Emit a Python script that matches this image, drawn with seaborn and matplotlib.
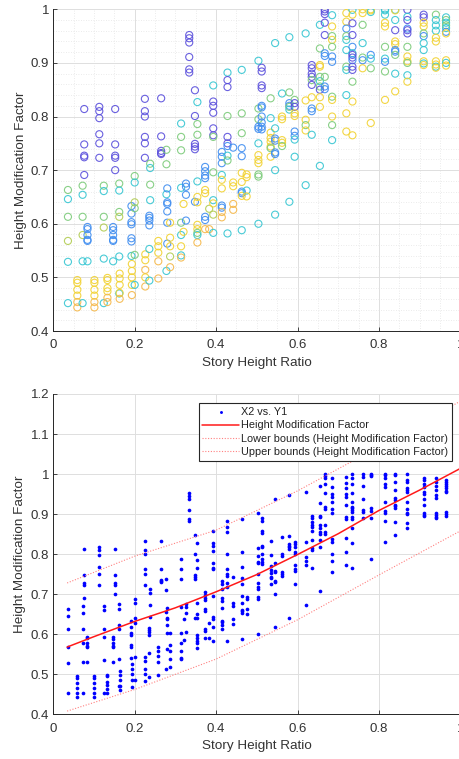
import numpy as np
import pandas as pd
import matplotlib
matplotlib.use("Agg")
import matplotlib.pyplot as plt
from matplotlib.ticker import FuncFormatter, MultipleLocator, AutoMinorLocator
import seaborn as sns

# ---------------- data ----------------
story_ratio = []
height_factor = []
color_group = []

def add(x, ys, cs):
    for y, c in zip(ys, cs):
        story_ratio.append(x)
        height_factor.append(y)
        color_group.append(c)

add(0.036, [0.663, 0.646, 0.613, 0.568, 0.529, 0.452], "GCGLCC")
add(0.059, [0.495, 0.490, 0.477, 0.466, 0.454, 0.444], "YYYYOO")
add(0.072, [0.671, 0.654, 0.613, 0.579, 0.530, 0.452], "GCGLCC")
add(0.076, [0.814, 0.748, 0.727, 0.724, 0.691], "PPPPP")
add(0.084, [0.594, 0.590, 0.579, 0.570, 0.568, 0.530], "BBBBBC")
add(0.101, [0.495, 0.490, 0.477, 0.466, 0.454, 0.444], "YYYYOO")
add(0.113, [0.818, 0.810, 0.797, 0.767, 0.750, 0.723], "PPPPPP")
add(0.124, [0.671, 0.661, 0.613, 0.593, 0.535, 0.452], "GCGLCC")
add(0.133, [0.499, 0.495, 0.480, 0.474, 0.462, 0.454], "YYYYOO")
add(0.147, [0.594, 0.588, 0.579, 0.570, 0.568, 0.530], "BBBBBC")
add(0.152, [0.814, 0.748, 0.727, 0.723, 0.700], "PPPPP")
add(0.162, [0.675, 0.662, 0.622, 0.613, 0.539, 0.470], "GCGLCC")
add(0.163, [0.507, 0.498, 0.486, 0.471, 0.460], "YYYYO")
add(0.192, [0.633, 0.619, 0.603, 0.599, 0.573, 0.567, 0.540], "BBBBBBC")
add(0.193, [0.525, 0.512, 0.500, 0.486, 0.467], "YYYYO")
add(0.200, [0.689, 0.677, 0.640, 0.629, 0.542, 0.486], "GCLGGC")
add(0.225, [0.833, 0.810, 0.800, 0.762, 0.750, 0.723], "PPPPPP")
add(0.226, [0.543, 0.532, 0.514, 0.500, 0.483], "YYOYO")
add(0.238, [0.712, 0.704, 0.673, 0.644], "GCGC")
add(0.236, [0.615, 0.611, 0.606, 0.597, 0.553, 0.494], "BBBBCC")
add(0.258, [0.568, 0.558, 0.546, 0.530, 0.498], "YYYOO")
add(0.265, [0.834, 0.763, 0.736, 0.732, 0.730], "PPPPP")
add(0.278, [0.738, 0.711, 0.655, 0.512], "GGCC")
add(0.280, [0.666, 0.640, 0.637, 0.623, 0.602, 0.563], "BBBBBB")
add(0.287, [0.602, 0.574, 0.558, 0.539, 0.519], "YYYLO")
add(0.314, [0.787, 0.762, 0.737, 0.667, 0.602, 0.579, 0.558, 0.541, 0.537], "CGGCGCYCO")
add(0.320, [0.637, 0.585], "YY")
add(0.326, [0.675, 0.669, 0.654, 0.606], "BBBB")
add(0.334, [0.952, 0.946, 0.938, 0.911, 0.888, 0.882], "PPPPPP")
add(0.348, [0.849, 0.801, 0.749, 0.744, 0.739, 0.641], "PPPPPB")
add(0.354, [0.827, 0.786, 0.766, 0.679, 0.650, 0.640, 0.598, 0.590, 0.583, 0.579, 0.565], "CGGCYYYYGCO")
add(0.373, [0.706, 0.698, 0.690, 0.685, 0.613, 0.607, 0.663, 0.657, 0.590], "BBBBBBYYO")
add(0.383, [0.628, 0.590], "LO")
add(0.393, [0.858, 0.828, 0.820, 0.807, 0.778, 0.765, 0.762, 0.696, 0.644, 0.638, 0.617, 0.583], "CPPPPPGGCYLC")
add(0.414, [0.734, 0.725, 0.713, 0.691, 0.682, 0.666, 0.634, 0.630, 0.622, 0.612], "BBBCYYBBOO")
add(0.428, [0.882, 0.868, 0.855, 0.801, 0.762, 0.750, 0.745, 0.727, 0.718, 0.582], "CPPGPPBCGC")
add(0.442, [0.742, 0.677, 0.670, 0.637, 0.626], "BYYOO")
add(0.463, [0.887, 0.806, 0.769, 0.741, 0.726, 0.695, 0.678, 0.660, 0.657, 0.652, 0.588], "CGGBBYYBBYC")
add(0.475, [0.692, 0.687, 0.662, 0.651], "YYCY")
add(0.504, [0.904, 0.815, 0.795, 0.781, 0.777, 0.750, 0.728, 0.719, 0.713, 0.692, 0.688, 0.600], "CGGBBCYYYGGC")
add(0.512, [0.891, 0.884, 0.858, 0.853, 0.820, 0.817, 0.800, 0.789, 0.781, 0.776], "PPPPBBBBBB")
add(0.534, [0.834, 0.797, 0.770, 0.760, 0.753, 0.744, 0.741, 0.725], "GCYYYYGY")
add(0.545, [0.937, 0.778, 0.759, 0.755, 0.733, 0.730, 0.700, 0.617], "CCBBBBCC")
add(0.562, [0.843, 0.800, 0.795, 0.756, 0.751, 0.745], "CYYYYG")
add(0.580, [0.948, 0.845, 0.825, 0.820, 0.818, 0.813, 0.641], "CGBBGCC")
add(0.593, [0.831, 0.825, 0.818, 0.806, 0.801, 0.772, 0.764, 0.757, 0.725], "GPPYYBBCC")
add(0.620, [0.955, 0.830, 0.794, 0.784, 0.774, 0.672], "CYYGYC")
add(0.635, [0.896, 0.890, 0.880, 0.874, 0.868, 0.859, 0.836, 0.815, 0.810, 0.766], "PPPPGPYBBC")
add(0.655, [0.971, 0.927, 0.896, 0.893, 0.874, 0.866, 0.856, 0.850, 0.836, 0.818, 0.708], "CGYYGCGPYYC")
add(0.667, [1.000, 0.996, 0.991, 0.975, 0.952, 0.918, 0.913, 0.874, 0.856, 0.851], "PPPPPBBGBB")
add(0.685, [0.989, 0.968, 0.950, 0.943, 0.930, 0.912, 0.902, 0.837, 0.831, 0.800, 0.784, 0.756], "CYGYGBBGYYGC")
add(0.720, [0.993, 0.977, 0.964, 0.950, 0.943, 0.924, 0.893, 0.887, 0.840, 0.806, 0.772], "YYBGCCGCCYY")
add(0.735, [0.999, 0.990, 0.974, 0.952, 0.930, 0.918, 0.915, 0.910, 0.905, 0.893, 0.887, 0.865, 0.828, 0.765], "CYPPBCPPBPPGYY")
add(0.760, [1.000, 0.993, 0.971, 0.937, 0.910, 0.905, 0.890], "YYGCGBY")
add(0.780, [1.000, 0.998, 0.995, 0.915, 0.908, 0.890, 0.788], "YYCBCGY")
add(0.815, [1.000, 0.998, 0.990, 0.975, 0.968, 0.930, 0.908, 0.902, 0.884, 0.831], "CCCYYGCBGY")
add(0.840, [0.999, 0.998, 0.980, 0.961, 0.940, 0.935, 0.924, 0.921, 0.915, 0.880, 0.847], "CYCPYYBBGCY")
add(0.870, [0.999, 0.986, 0.980, 0.964, 0.961, 0.955, 0.930, 0.912, 0.903, 0.900, 0.877, 0.865], "PCPBPPGYYGCY")
add(0.910, [0.990, 0.985, 0.975, 0.968, 0.955, 0.950, 0.937, 0.924, 0.903, 0.899, 0.896], "PPYYGBCCYCY")
add(0.940, [0.990, 0.980, 0.970, 0.960, 0.947, 0.940, 0.903, 0.897, 0.893, 0.891], "GCCCYYYYCY")
add(0.965, [0.985, 0.980, 0.975, 0.970, 0.965, 0.958, 0.955, 0.905, 0.900, 0.895], "CGCGCBYYCY")

fit_x = [0.034, 0.1, 0.2, 0.3, 0.4, 0.5, 0.6, 0.7, 0.8, 0.9, 1.0]
fit_y = [0.568, 0.594, 0.632, 0.666, 0.706, 0.749, 0.799, 0.851, 0.909, 0.960, 1.014]
bound_x = [0.034, 0.2, 0.4, 0.6, 0.8, 1.0]
lower_y = [0.408, 0.462, 0.538, 0.636, 0.748, 0.858]
upper_y = [0.728, 0.795, 0.860, 0.958, 1.068, 1.182]

x_label = "Story Height Ratio"
y_label = "Height Modification Factor"
legend_labels = ["X2 vs. Y1", "Height Modification Factor",
                 "Lower bounds (Height Modification Factor)",
                 "Upper bounds (Height Modification Factor)"]

palette = {"P": "#5a4fdc", "B": "#3f8df0", "C": "#36c6d2", "G": "#7ccb7a",
           "L": "#b2cc52", "Y": "#f2d232", "O": "#f5b84a"}

df = pd.DataFrame({"x": story_ratio, "y": height_factor, "g": color_group})

# ---------------- style ----------------
sns.set_style("white")
plt.rcParams["font.family"] = ["Liberation Sans", "DejaVu Sans"]
TXT = "#333333"

fig = plt.figure(figsize=(4.59, 7.59), dpi=100)
ax1 = fig.add_axes([53.3 / 459, 1 - 331 / 759, 407 / 459, 321.7 / 759])
ax2 = fig.add_axes([53.3 / 459, 1 - 714.3 / 759, 407 / 459, 320.3 / 759])

def style_axes(ax, ylim, minor):
    ax.set_xlim(0, 1)
    ax.set_ylim(*ylim)
    ax.xaxis.set_major_locator(MultipleLocator(0.2))
    ax.yaxis.set_major_locator(MultipleLocator(0.1))
    fmt = FuncFormatter(lambda v, p: f"{round(v, 6):g}")
    ax.xaxis.set_major_formatter(fmt)
    ax.yaxis.set_major_formatter(fmt)
    for s in ["top", "right"]:
        ax.spines[s].set_visible(False)
    for s in ["left", "bottom"]:
        ax.spines[s].set_color("#262626")
        ax.spines[s].set_linewidth(0.7)
    ax.tick_params(axis="both", which="major", direction="in", length=3,
                   width=0.6, colors="#262626", labelsize=9.5,
                   labelcolor=TXT, left=True, bottom=True)
    ax.tick_params(axis="x", which="major", pad=6)
    ax.tick_params(axis="y", which="major", pad=3)
    ax.grid(True, which="major", color="#dedede", linewidth=0.7)
    if minor:
        ax.xaxis.set_minor_locator(AutoMinorLocator(4))
        ax.yaxis.set_minor_locator(AutoMinorLocator(5))
        ax.tick_params(which="minor", length=0)
        ax.grid(True, which="minor", color="#e4e4e4", linewidth=0.6,
                linestyle=(0, (1, 2)))
    ax.set_axisbelow(True)
    ax.set_xlabel(x_label, fontsize=9.7, color=TXT, labelpad=4)
    ax.set_ylabel(y_label, fontsize=9.7, color=TXT, labelpad=3)

# ---------------- top: hollow coloured circles ----------------
sns.scatterplot(data=df, x="x", y="y", hue="g", palette=palette, ax=ax1,
                s=26, marker="o", legend=False, linewidth=0.8, alpha=0.9)
coll = ax1.collections[0]
fc = coll.get_facecolors()
coll.set_edgecolors(fc)
coll.set_facecolors("none")
style_axes(ax1, (0.4, 1.0), True)

# ---------------- bottom: dots + fit ----------------
sns.scatterplot(data=df, x="x", y="y", ax=ax2, color="#0000ff", s=7,
                marker="o", linewidth=0, label=legend_labels[0], legend=False)
sns.lineplot(x=fit_x, y=fit_y, ax=ax2, color="#ff1a1a", linewidth=1.1,
             label=legend_labels[1], legend=False, sort=False)
sns.lineplot(x=bound_x, y=lower_y, ax=ax2, color="#ff8080", linewidth=0.8,
             linestyle=(0, (1, 1.5)), label=legend_labels[2], legend=False, sort=False)
sns.lineplot(x=bound_x, y=upper_y, ax=ax2, color="#ff8080", linewidth=0.8,
             linestyle=(0, (1, 1.5)), label=legend_labels[3], legend=False, sort=False)
style_axes(ax2, (0.4, 1.2), False)

handles, labels = ax2.get_legend_handles_labels()
leg = ax2.legend(handles, labels, loc="upper right", bbox_to_anchor=(0.98, 0.971),
                 borderaxespad=0, fontsize=7.8, frameon=True, fancybox=False,
                 framealpha=1, edgecolor="#262626", handlelength=3.4,
                 handletextpad=0.2, labelspacing=0.3, borderpad=0.35,
                 markerscale=0.8)
leg.get_frame().set_linewidth(0.8)
for t in leg.get_texts():
    t.set_color("#222222")

fig.savefig("out.png", dpi=100)
